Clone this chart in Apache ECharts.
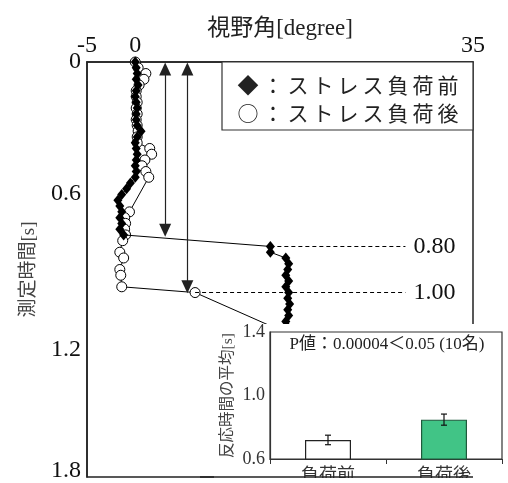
<!DOCTYPE html>
<html><head><meta charset="utf-8">
<script src="https://cdn.jsdelivr.net/npm/echarts@6/dist/echarts.min.js"></script>
<style>html,body{margin:0;padding:0;background:#fff}#c{width:508px;height:483px}</style>
</head><body><div id="c"></div>
<script>
// ---- data ----
const timeBefore = [0.000,0.025,0.050,0.075,0.100,0.125,0.150,0.175,0.200,0.225,0.250,0.275,0.300,0.325,0.350,0.375,0.400,0.425,0.450,0.475,0.500,0.525,0.550,0.575,0.600,0.625,0.650,0.675,0.700,0.725,0.750,0.800,0.825,0.850,0.875,0.900,0.925,0.950,0.975,1.000,1.025,1.050,1.075,1.100,1.125,1.150,1.175,1.200];
const angleBefore = [0.0,0.1,0.2,0.1,0.3,0.1,0.0,0.1,0.2,0.1,0.1,0.2,0.6,0.2,0.0,0.1,0.2,0.1,0.0,0.1,0.0,-0.5,-0.9,-1.4,-1.8,-1.6,-1.4,-1.6,-1.4,-1.6,-1.2,14.0,14.0,15.6,15.9,15.8,15.6,15.9,15.6,15.9,15.8,16.0,15.8,15.9,15.6,15.8,16.0,15.8];
const timeAfter = [0.000,0.025,0.050,0.075,0.100,0.125,0.150,0.175,0.200,0.225,0.250,0.275,0.300,0.325,0.350,0.375,0.400,0.425,0.450,0.475,0.500,0.650,0.675,0.700,0.725,0.750,0.775,0.825,0.850,0.900,0.925,0.975,1.000,1.200,1.225,1.250];
const angleAfter = [0.0,0.3,1.1,0.9,0.4,0.1,0.1,0.2,0.1,0.2,0.1,0.2,0.3,0.2,0.2,1.5,1.7,1.0,0.7,1.1,1.4,-0.6,-1.1,-1.0,-1.1,-1.0,-1.3,-1.6,-1.2,-1.6,-1.5,-1.4,6.2,17.0,16.8,16.9];
const xTickValues = [-5, 0, 35];
const xTickLabels = ['-5', '0', '35'];
const yTickLabels = ['0', '0.6', '1.2', '1.8'];
const reactionBefore = [14.0, 0.80];   // [angle, time] of stress-before reaction point
const reactionAfter = [6.2, 1.00];     // [angle, time] of stress-after reaction point
const reactionLabels = ['0.80', '1.00'];
const legendLabels = ['◆：ストレス負荷前', '○：ストレス負荷後'];
const insetCategories = ['負荷前', '負荷後'];
const insetMeans = [0.72, 0.848];
const insetErrors = [0.03, 0.035];
const insetNote = 'P値：0.00004＜0.05 (10名)';

// ---- chart ----
const SERIF = '"Liberation Serif", "Noto Sans CJK JP", serif';
const CJK = '"Noto Sans CJK JP", sans-serif';
const chart = echarts.init(document.getElementById('c'), null, {renderer: 'canvas'});

const G = {left: 87, top: 62, right: 35, bottom: 6};
const mainBottomY = 483 - G.bottom;

const legendGraphics = [{
  type: 'rect', shape: {x: 222, y: 62, width: 251, height: 68},
  style: {fill: '#fff', stroke: '#333', lineWidth: 1.2}, z: 50
}];
legendLabels.forEach((lab, i) => {
  Array.from(lab).forEach((ch, j) => {
    legendGraphics.push({
      type: 'text', x: 248 + j * 25, y: 85 + i * 28, z: 51,
      style: {text: ch, fill: '#222', font: '21px ' + CJK, textAlign: 'center', textVerticalAlign: 'middle'}
    });
  });
});

const dashedLabel = txt => ({show: true, position: 'end', distance: 8, formatter: txt, fontFamily: SERIF, fontSize: 24, color: '#111'});

const option = {
  animation: false,
  backgroundColor: '#fff',
  grid: [
    {left: G.left, top: G.top, right: G.right, bottom: G.bottom, show: true, borderColor: '#222', borderWidth: 1.5, backgroundColor: 'transparent'},
    {left: 270, top: 332, right: 6, bottom: 20, show: true, borderColor: '#333', borderWidth: 1.2, z: 110}
  ],
  xAxis: [
    {
      type: 'value', gridIndex: 0, position: 'top', min: -5, max: 35, interval: 5,
      name: '視野角[degree]', nameLocation: 'middle', nameGap: 22, nameMoveOverlap: false,
      nameTextStyle: {fontFamily: SERIF, fontSize: 23, color: '#222'},
      axisLine: {show: true, onZero: false, lineStyle: {color: '#222', width: 1.5}},
      axisTick: {show: false}, splitLine: {show: false},
      axisLabel: {
        margin: 4, fontFamily: SERIF, fontSize: 24, color: '#111',
        formatter: v => { const k = xTickValues.indexOf(Math.round(v)); return k >= 0 ? xTickLabels[k] : ''; }
      }
    },
    {
      type: 'category', gridIndex: 1, data: insetCategories, z: 115,
      axisLine: {show: true, onZero: false, lineStyle: {color: '#333', width: 1.2}},
      axisTick: {show: true, length: 5, lineStyle: {color: '#333'}},
      axisLabel: {margin: 6, fontFamily: CJK, fontSize: 18, color: '#333'}
    }
  ],
  yAxis: [
    {
      type: 'value', gridIndex: 0, inverse: true, min: 0, max: 1.8, interval: 0.6,
      name: '測定時間[s]', nameLocation: 'middle', nameGap: 48, nameRotate: 90, nameMoveOverlap: false,
      nameTextStyle: {fontFamily: SERIF, fontSize: 19, color: '#444'},
      axisLine: {show: true, onZero: false, lineStyle: {color: '#222', width: 1.5}},
      axisTick: {show: false}, splitLine: {show: false},
      axisLabel: {
        margin: 6, fontFamily: SERIF, fontSize: 24, color: '#111',
        formatter: v => {
          const k = Math.round(v / 0.6);
          const key = ['a', 'b', 'c', 'd'][k];
          return '{' + key + '|' + yTickLabels[k] + '}';
        },
        rich: {
          a: {fontFamily: SERIF, fontSize: 24, color: '#111'},
          b: {fontFamily: SERIF, fontSize: 24, color: '#111', padding: [0, 0, 14, 0]},
          c: {fontFamily: SERIF, fontSize: 24, color: '#111', padding: [22, 0, 0, 0]},
          d: {fontFamily: SERIF, fontSize: 24, color: '#111', padding: [0, 0, 12, 0]}
        }
      }
    },
    {
      type: 'value', gridIndex: 1, min: 0.6, max: 1.4, interval: 0.4, z: 115,
      name: '反応時間の平均[s]', nameLocation: 'middle', nameGap: 34, nameRotate: 90, nameMoveOverlap: false,
      nameTextStyle: {fontFamily: SERIF, fontSize: 15.5, color: '#444'},
      axisLine: {show: true, onZero: false, lineStyle: {color: '#333', width: 1.2}},
      axisTick: {show: false}, splitLine: {show: false},
      axisLabel: {margin: 5, fontFamily: SERIF, fontSize: 18, color: '#333', formatter: v => v.toFixed(1)}
    }
  ],
  series: [
    {
      name: 'ストレス負荷後', type: 'line', xAxisIndex: 0, yAxisIndex: 0, z: 3,
      data: timeAfter.map((t, i) => [angleAfter[i], t]),
      symbol: 'circle', symbolSize: 10, showAllSymbol: true,
      itemStyle: {color: '#fff', borderColor: '#000', borderWidth: 1},
      lineStyle: {color: '#000', width: 1},
      markLine: {
        silent: true, animation: false,
        data: [
          [{coord: reactionAfter, symbol: 'none', lineStyle: {color: '#000', width: 1, type: [4, 3]}},
           {coord: [28, reactionAfter[1]], symbol: 'none', label: dashedLabel(reactionLabels[1])}],
          [{coord: [3.1, 0.03], symbol: 'triangle'}, {coord: [3.1, 0.73], symbol: 'triangle', label: {show: false}}],
          [{coord: [5.4, 0.03], symbol: 'triangle'}, {coord: [5.4, 0.975], symbol: 'triangle', label: {show: false}}]
        ],
        symbolSize: [12, 13],
        lineStyle: {color: '#222', width: 1.2, type: 'solid'},
        label: {show: false}
      }
    },
    {
      name: 'ストレス負荷前', type: 'line', xAxisIndex: 0, yAxisIndex: 0, z: 4,
      data: timeBefore.map((t, i) => [angleBefore[i], t]),
      symbol: 'diamond', symbolSize: [9, 11], showAllSymbol: true,
      itemStyle: {color: '#000'},
      lineStyle: {color: '#000', width: 1},
      markLine: {
        silent: true, animation: false, symbol: 'none',
        data: [
          [{coord: reactionBefore},
           {coord: [28, reactionBefore[1]], label: dashedLabel(reactionLabels[0])}]
        ],
        lineStyle: {color: '#000', width: 1, type: [4, 3]},
        label: {show: false}
      }
    },
    {
      name: 'inset', type: 'bar', xAxisIndex: 1, yAxisIndex: 1, z: 120, barWidth: 46,
      data: insetMeans.map((m, i) => ({
        value: m,
        itemStyle: i === 0 ? {color: '#fff', borderColor: '#222', borderWidth: 1.2}
                           : {color: '#41c486', borderColor: '#1f5a3c', borderWidth: 1.2}
      }))
    },
    {
      name: 'err', type: 'custom', xAxisIndex: 1, yAxisIndex: 1, z: 125,
      data: insetMeans.map((m, i) => [i, m, insetErrors[i]]),
      renderItem: (params, api) => {
        const x = api.value(0), m = api.value(1), e = api.value(2);
        const top = api.coord([x, m + e]);
        const bot = api.coord([x, m - e]);
        const st = {stroke: '#111', lineWidth: 1.2};
        return {type: 'group', children: [
          {type: 'line', shape: {x1: top[0], y1: top[1], x2: bot[0], y2: bot[1]}, style: st},
          {type: 'line', shape: {x1: top[0] - 3, y1: top[1], x2: top[0] + 3, y2: top[1]}, style: st},
          {type: 'line', shape: {x1: bot[0] - 3, y1: bot[1], x2: bot[0] + 3, y2: bot[1]}, style: st}
        ]};
      }
    }
  ],
  graphic: [
    ...legendGraphics,
    {type: 'rect', shape: {x: 214, y: 324, width: 294, height: 159}, style: {fill: '#fff'}, z: 100},
    {type: 'text', x: 387, y: 345, z: 126,
     style: {text: insetNote, font: '17px ' + SERIF, fill: '#222', textAlign: 'center', textVerticalAlign: 'middle'}},
    {type: 'rect', shape: {x: 200, y: mainBottomY + 1, width: 308, height: 10}, style: {fill: '#fff'}, z: 130},
    {type: 'line', shape: {x1: 200, y1: mainBottomY, x2: 473, y2: mainBottomY}, style: {stroke: '#222', lineWidth: 1.5}, z: 131}
  ]
};
chart.setOption(option);
</script>
</body></html>
